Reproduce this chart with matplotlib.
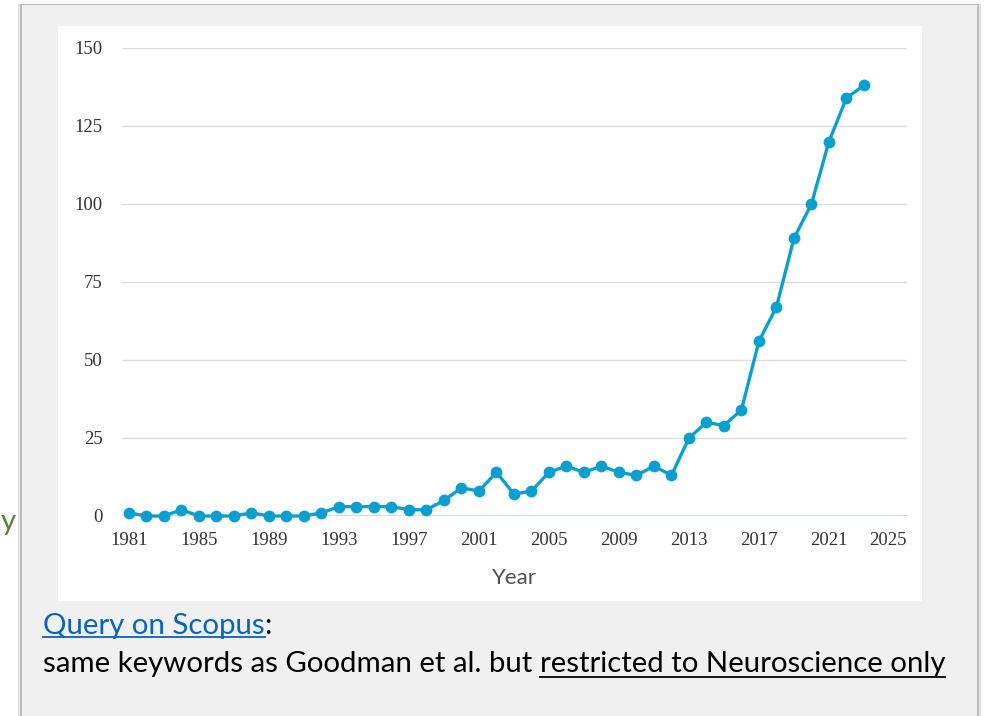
import matplotlib.pyplot as plt
from matplotlib.patches import Rectangle
from matplotlib.lines import Line2D
import matplotlib.transforms as mtransforms

# publications per year
years = list(range(1981, 2024))
counts = [1, 0, 0, 2, 0, 0, 0, 1, 0, 0, 0, 1, 3, 3, 3, 3, 2, 2, 5, 9,
          8, 14, 7, 8, 14, 16, 14, 16, 14, 13, 16, 13, 25, 30, 29, 34, 56, 67, 89, 100,
          120, 134, 138]
year_ticks = [1981, 1985, 1989, 1993, 1997, 2001, 2005, 2009, 2013, 2017, 2021, 2025]
value_ticks = [0, 25, 50, 75, 100, 125, 150]

W, H = 986, 716
fig = plt.figure(figsize=(W / 100, H / 100), dpi=100)
fig.patch.set_facecolor('white')


def px(x, y):
    # pixel coords (top-left origin) -> figure fraction
    return x / W, 1 - y / H


def box(xa, ya, xb, yb, col):
    x0, y0 = px(xa, ya)
    x1, y1 = px(xb, yb)
    fig.patches.append(Rectangle((x0, y1), x1 - x0, y0 - y1, transform=fig.transFigure,
                                 facecolor=col, edgecolor='none', zorder=-5))


# slide panel with a soft shadow
box(18, 4, 981, 716, '#e2e2e2')
box(20, 4, 979, 716, '#bdbdbd')
box(22, 5, 977, 716, '#f0f0f0')
# white chart card
box(58, 26, 922, 601, 'white')

# axes
l, t = px(122, 48)
r, b = px(907, 516)
ax = fig.add_axes([l, b, r - l, t - b])
ax.set_zorder(5)
ax.set_facecolor('none')
ax.plot(years, counts, color='#0a9fcf', lw=2.4, marker='o', markersize=8.5,
        markeredgewidth=0, clip_on=False, zorder=3)
ax.set_xlim(1980.6, 2025.46)
ax.set_ylim(0, 150)
ax.set_yticks(value_ticks)
ax.set_xticks(year_ticks)
ax.grid(axis='y', color='#dedede', lw=1)
ax.axhline(0, color='#c9d8f0', lw=1.2, zorder=2)
for s in ax.spines.values():
    s.set_visible(False)
ax.tick_params(length=0, labelsize=13.5, colors='#333333')
ax.tick_params(axis='y', pad=14)
ax.tick_params(axis='x', pad=11.5)
for lab in ax.get_xticklabels() + ax.get_yticklabels():
    lab.set_family('Liberation Serif')
# last year label is pulled inside the plot edge
lab25 = ax.get_xticklabels()[-1]
lab25.set_transform(lab25.get_transform() +
                    mtransforms.ScaledTranslation(-11 / 100, 0, fig.dpi_scale_trans))
ax.set_xlabel('Year', family='Lato', fontsize=16, color='#505050', labelpad=14)

# slide text
fsz = 21.2
t1 = fig.text(*px(43, 634), 'Query on Scopus', color='#0563c1', fontsize=fsz,
              family='Lato', va='baseline')
fig.canvas.draw()
rend = fig.canvas.get_renderer()
bb1 = t1.get_window_extent(rend)
fig.text(bb1.x1 / W, 1 - 634 / H, ':', color='black', fontsize=fsz, family='Lato', va='baseline')
fig.lines.append(Line2D([bb1.x0 / W, bb1.x1 / W], [1 - 637 / H] * 2, transform=fig.transFigure,
                        color='#0563c1', lw=1.3))

t2 = fig.text(*px(43, 672), 'same keywords as Goodman et al. but', color='black',
              fontsize=fsz, family='Lato', va='baseline')
fig.canvas.draw()
bb2 = t2.get_window_extent(rend)
tmp = fig.text(0, 0, 'a a', fontsize=fsz, family='Lato')
tmp2 = fig.text(0, 0, 'aa', fontsize=fsz, family='Lato')
fig.canvas.draw()
sp = tmp.get_window_extent(rend).width - tmp2.get_window_extent(rend).width
tmp.remove()
tmp2.remove()
xs = bb2.x1 + sp
t3 = fig.text(xs / W, 1 - 672 / H, 'restricted to Neuroscience only', color='black',
              fontsize=fsz, family='Lato', va='baseline')
fig.canvas.draw()
bb3 = t3.get_window_extent(rend)
fig.lines.append(Line2D([bb3.x0 / W, bb3.x1 / W], [1 - 677 / H] * 2, transform=fig.transFigure,
                        color='black', lw=1.3))

# clipped word from the neighbouring slide column
fig.text(*px(1, 530), 'y', color='#548235', fontsize=fsz, family='Lato', va='baseline')

fig.savefig('out.png', dpi=100)
